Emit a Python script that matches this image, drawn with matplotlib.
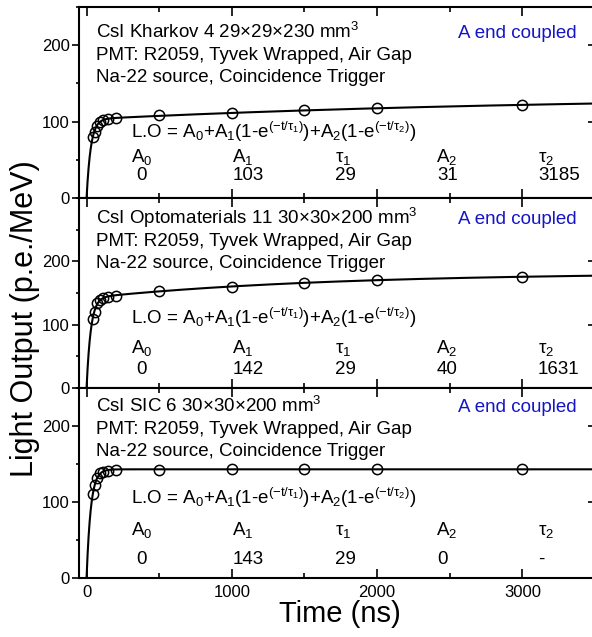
import numpy as np
import matplotlib
matplotlib.use("Agg")
import matplotlib.pyplot as plt
from matplotlib.ticker import MultipleLocator, FixedLocator

plt.rcParams['font.family'] = ['Liberation Sans', 'DejaVu Sans']
plt.rcParams['mathtext.fontset'] = 'custom'
plt.rcParams['mathtext.rm'] = 'Liberation Sans'
plt.rcParams['mathtext.it'] = 'Liberation Sans:italic'
plt.rcParams['mathtext.bf'] = 'Liberation Sans:bold'

W, H = 592, 637

# Measured light output vs. gate time for three CsI crystals
time_ns = [45, 55, 75, 90, 110, 150, 200, 500, 1000, 1500, 2000, 3000]
lo_kharkov = [80, 87, 94, 99, 102, 103, 105, 108, 111, 115, 118, 122]
lo_opto = [109, 120, 134, 139, 142, 143, 146, 153, 160, 166, 170, 176]
lo_sic = [111, 122, 132, 138, 140, 141, 142, 142, 143, 143, 143, 143]

crystals = ["CsI Kharkov 4 29\u00d729\u00d7230 mm$^3$",
            "CsI Optomaterials 11 30\u00d730\u00d7200 mm$^3$",
            "CsI SIC 6 30\u00d730\u00d7200 mm$^3$"]
setup_lines = ["PMT: R2059, Tyvek Wrapped, Air Gap",
               "Na-22 source, Coincidence Trigger"]
coupling = "A end coupled"

# Fit parameters: L.O = A0 + A1(1-exp(-t/tau1)) + A2(1-exp(-t/tau2))
fit_A0 = [0, 0, 0]
fit_A1 = [103, 142, 143]
fit_tau1 = [29, 29, 29]
fit_A2 = [31, 40, 0]
fit_tau2 = [3185, 1631, None]

y_max = [250, 300, 250]
x_ticks = [0, 1000, 2000, 3000]
y_ticks = [0, 100, 200]

param_names = ["A$_0$", "A$_1$", r"$\mathrm{\tau_1}$", "A$_2$", r"$\mathrm{\tau_2}$"]
formula = (r"L.O = A$_0$+A$_1$(1-e$^{(\mathrm{-t/\tau_1})}$)"
           r"+A$_2$(1-e$^{(\mathrm{-t/\tau_2})}$)")

series = [lo_kharkov, lo_opto, lo_sic]

fig = plt.figure(figsize=(W / 100, H / 100), dpi=100)

# panel geometry in pixels
left_px, right_px = 79.3, 595.0
tops = [7, 198, 388]
bottoms = [198, 388, 578]

# text rows (pixel centre lines) per panel
rows = [
    dict(l1=32, l2=54, l3=75, f=132, lab=155, val=173),
    dict(l1=217, l2=239, l3=261, f=318, lab=346, val=368),
    dict(l1=405, l2=428, l3=450, f=497, lab=529, val=557),
]
lab_x = [131, 232, 335, 436, 538]
val_x = [136, 233, 335, 437, 538]

FS = 13.5


def put(x, yc, s, **kw):
    kw.setdefault('fontsize', FS)
    fig.text(x / W, 1 - (yc + 6.5) / H, s, va='baseline', **kw)


def fmt(v):
    return "-" if v is None else f"{v:g}"


t_fit = np.linspace(0, 3500, 2000)

for i in range(3):
    ax = fig.add_axes([left_px / W, 1 - bottoms[i] / H,
                       (right_px - left_px) / W, (bottoms[i] - tops[i]) / H])
    fit = fit_A0[i] + fit_A1[i] * (1 - np.exp(-t_fit / fit_tau1[i]))
    if fit_tau2[i] is not None:
        fit = fit + fit_A2[i] * (1 - np.exp(-t_fit / fit_tau2[i]))
    ax.plot(t_fit, fit, color='black', lw=1.5, zorder=2)
    ax.plot(time_ns, series[i], 'o', mfc='none', mec='black', ms=7.4,
            mew=1.1, zorder=3)

    ax.set_xlim(-50, 3500)
    ax.set_ylim(0, y_max[i])
    ax.xaxis.set_major_locator(FixedLocator(x_ticks))
    ax.xaxis.set_minor_locator(MultipleLocator(500))
    ax.yaxis.set_major_locator(FixedLocator(y_ticks))
    ax.yaxis.set_minor_locator(MultipleLocator(50))
    ax.tick_params(axis='x', which='both', direction='in', top=True,
                   bottom=True, labelsize=12, pad=5, width=1.2)
    ax.tick_params(axis='x', which='major', length=6.5)
    ax.tick_params(axis='x', which='minor', length=3.5)
    ax.tick_params(axis='y', which='both', direction='out', left=True,
                   right=False, labelsize=12, pad=2, width=1.2)
    ax.tick_params(axis='y', which='major', length=5)
    ax.tick_params(axis='y', which='minor', length=2.5)
    if i < 2:
        ax.tick_params(axis='x', labelbottom=False)
    for sp in ax.spines.values():
        sp.set_linewidth(1.5)

    # inward ticks on the right edge
    sec = ax.secondary_yaxis('right')
    sec.yaxis.set_major_locator(FixedLocator(y_ticks))
    sec.yaxis.set_minor_locator(MultipleLocator(50))
    sec.tick_params(which='both', direction='in', labelright=False, width=1.2)
    sec.tick_params(which='major', length=5)
    sec.tick_params(which='minor', length=2.5)
    sec.spines['right'].set_linewidth(1.5)

    r = rows[i]
    put(96, r['l1'], crystals[i])
    put(96, r['l2'], setup_lines[0])
    put(96, r['l3'], setup_lines[1])
    put(577, r['l1'], coupling, ha='right', color='#1414c8')
    put(131, r['f'], formula)
    vals = [fit_A0[i], fit_A1[i], fit_tau1[i], fit_A2[i], fit_tau2[i]]
    for k in range(5):
        put(lab_x[k], r['lab'], param_names[k])
        put(val_x[k], r['val'], fmt(vals[k]))

fig.text(25 / W, 0.5, "Light Output (p.e./MeV)", rotation=90,
         fontsize=22, ha='center', va='center')
fig.text(340 / W, 1 - 614 / H, "Time (ns)", fontsize=21,
         ha='center', va='center')

fig.savefig("out.png", dpi=100)
